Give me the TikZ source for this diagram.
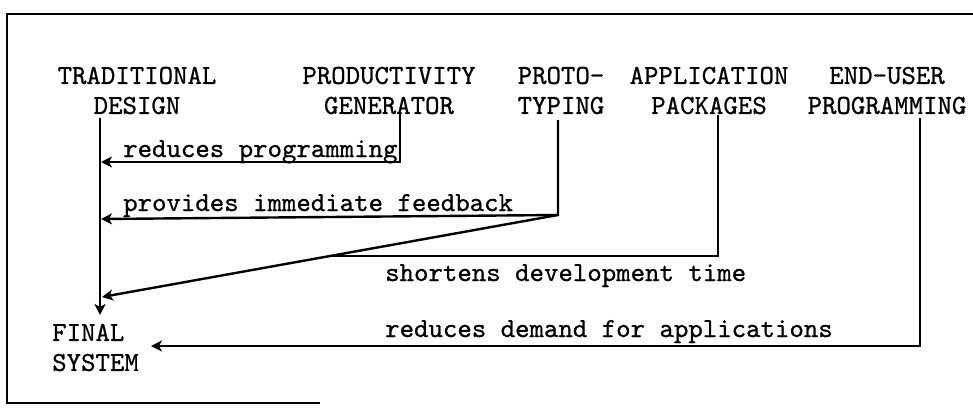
\documentclass[tikz,border=0pt]{standalone}
\usepackage{fontspec}
\newfontfamily\typew[FakeBold=0.8]{lmmono10-regular.otf}
\usetikzlibrary{arrows.meta,calc}
\begin{document}
\begin{tikzpicture}[x=1pt,y=-1pt,
  every node/.style={font=\typew\fontsize{27.5}{30}\selectfont, inner sep=0pt},
  head/.style={align=center},
  lab/.style={anchor=base west},
  conn/.style={line width=2.4pt},
  arr/.style={conn,-{Stealth[length=11pt,width=11pt,inset=3pt]}}]
\useasboundingbox (0,0) rectangle (973,407);
% frame
\draw[line width=2.4pt] (320,403) -- (7,403) -- (7,14) -- (975,14);
% headings
\node[head] (td) at (137,90.5) {TRADITIONAL\\DESIGN};
\node[head] (pg) at (389,90.5) {PRODUCTIVITY\\GENERATOR};
\node[head] (pr) at (561,90.5) {PROTO-\\TYPING};
\node[head] (ap) at (709,90.5) {APPLICATION\\PACKAGES};
\node[head] (eu) at (887,90.5) {END-USER\\PROGRAMMING};
\node[align=left, anchor=west] (fs) at (52,347.5) {FINAL\\SYSTEM};
% labels
\node[lab] (l1) at (123,157) {reduces programming};
\node[lab] (l2) at (123,211) {provides immediate feedback};
\node[lab] (l3) at (385,281) {shortens development time};
\node[lab] (l4) at (385,337) {reduces demand for applications};
% connector points
\coordinate (tdtop) at (100,118);
\coordinate (tdbot) at (100,315);
\coordinate (tdr1) at (101,162);
\coordinate (tdr2) at (101,219);
\coordinate (tdr3) at (102,297);
\coordinate (pgtop) at (400,113);
\coordinate (prtop) at (558,120);
\coordinate (prc) at (558,215);
\coordinate (aptop) at (718,115);
\coordinate (merge) at ($(prc)!0.5!(tdr3)$);
\coordinate (eutop) at (920,118);
\coordinate (fsr) at (151,346);
% connectors
\draw[arr] (tdtop) -- (tdbot);
\draw[arr] (pgtop) |- (tdr1);
\draw[arr] (prtop) -- (prc) -- (tdr2);
\draw[arr] (prc) -- (tdr3);
\draw[conn] (aptop) |- (merge);
\draw[arr] (eutop) |- (fsr);
\end{tikzpicture}
\end{document}
